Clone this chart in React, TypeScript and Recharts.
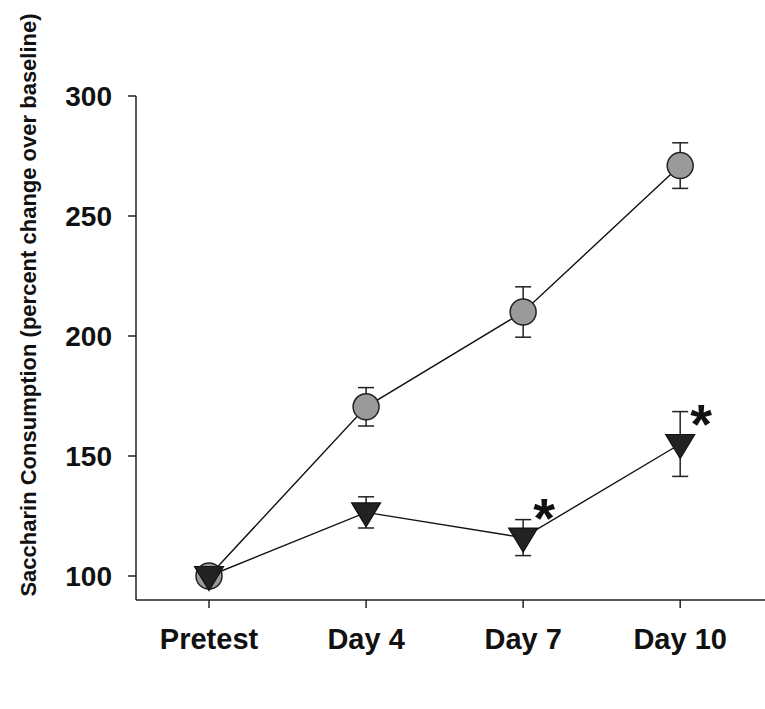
import React from 'react';
import { LineChart, Line, XAxis, YAxis, ErrorBar, LabelList } from 'recharts';

const categories = ['Pretest', 'Day 4', 'Day 7', 'Day 10'];
const circleValues = [100, 170.5, 210, 271];
const circleErrors = [0, 8, 10.5, 9.5];
const triangleValues = [100, 126.5, 116, 155];
const triangleErrors = [0, 6.5, 7.5, 13.5];
const significance = ['', '', '*', '*'];
const yTicks = [100, 150, 200, 250, 300];
const yLabel = 'Saccharin Consumption (percent change over baseline)';

const data = categories.map((c, i) => ({
  idx: i,
  name: c,
  circle: circleValues[i],
  circleErr: circleErrors[i],
  tri: triangleValues[i],
  triErr: triangleErrors[i],
  sig: significance[i],
}));

const FONT = '"Liberation Sans", Arial, Helvetica, sans-serif';

const CircleDot = (props: any) => {
  const { cx, cy, index } = props;
  if (cx == null || cy == null) return <g key={`c-${index}`} />;
  return <circle key={`c-${index}`} cx={cx} cy={cy} r={13} fill="#9a9a9a" stroke="#222" strokeWidth={1.5} />;
};

const TriangleDot = (props: any) => {
  const { cx, cy, index } = props;
  if (cx == null || cy == null) return <g key={`t-${index}`} />;
  const hw = 14.5;
  const top = cy - 9.5;
  const tip = cy + 14.5;
  return (
    <path
      key={`t-${index}`}
      d={`M${cx - hw},${top} L${cx + hw},${top} L${cx},${tip} Z`}
      fill="#222"
      stroke="#111"
      strokeWidth={1.2}
    />
  );
};

const XTick = (props: any) => {
  const { x, y, payload } = props;
  return (
    <text x={x} y={y} dy={39} textAnchor="middle" fontFamily={FONT} fontWeight="bold" fontSize={29} fill="#111">
      {categories[payload.value]}
    </text>
  );
};

const YTick = (props: any) => {
  const { x, y, payload } = props;
  return (
    <text x={x} y={y} dy={10} textAnchor="end" fontFamily={FONT} fontWeight="bold" fontSize={28} fill="#111">
      {payload.value}
    </text>
  );
};

const Star = (props: any) => {
  const { x, y, value } = props;
  if (!value) return null;
  return (
    <text x={x + 21} y={y - 1} textAnchor="middle" fontFamily={FONT} fontWeight="bold" fontSize={56} fill="#111">
      {value}
    </text>
  );
};

export default function App() {
  return (
    <div style={{ position: 'absolute', left: 0, top: 0, width: 765, height: 709, background: '#fff' }}>
      <LineChart width={765} height={709} data={data} margin={{ top: 96, right: 0, bottom: 59, left: 56 }}>
        <XAxis
          dataKey="idx"
          type="number"
          domain={[-0.465, 3.54]}
          ticks={[0, 1, 2, 3]}
          tick={<XTick />}
          tickSize={8}
          tickMargin={2}
          height={50}
          stroke="#222"
          strokeWidth={1.5}
          allowDataOverflow
        />
        <YAxis
          type="number"
          domain={[90, 300]}
          ticks={yTicks}
          tick={<YTick />}
          tickSize={8}
          tickMargin={16}
          width={80}
          stroke="#222"
          strokeWidth={1.5}
          allowDataOverflow
          label={{
            content: () => (
              <text
                x={36}
                y={305}
                transform="rotate(-90, 36, 305)"
                textAnchor="middle"
                fontFamily={FONT}
                fontWeight="bold"
                fontSize={22}
                fill="#111"
              >
                {yLabel}
              </text>
            ),
          }}
        />
        <Line
          dataKey="circle"
          stroke="#111"
          strokeWidth={1.4}
          dot={CircleDot}
          activeDot={false}
          isAnimationActive={false}
        >
          <ErrorBar dataKey="circleErr" width={8} stroke="#222" strokeWidth={1.5} direction="y" />
        </Line>
        <Line
          dataKey="tri"
          stroke="#111"
          strokeWidth={1.4}
          dot={TriangleDot}
          activeDot={false}
          isAnimationActive={false}
        >
          <ErrorBar dataKey="triErr" width={8} stroke="#222" strokeWidth={1.5} direction="y" />
          <LabelList dataKey="sig" content={Star} />
        </Line>
      </LineChart>
    </div>
  );
}
